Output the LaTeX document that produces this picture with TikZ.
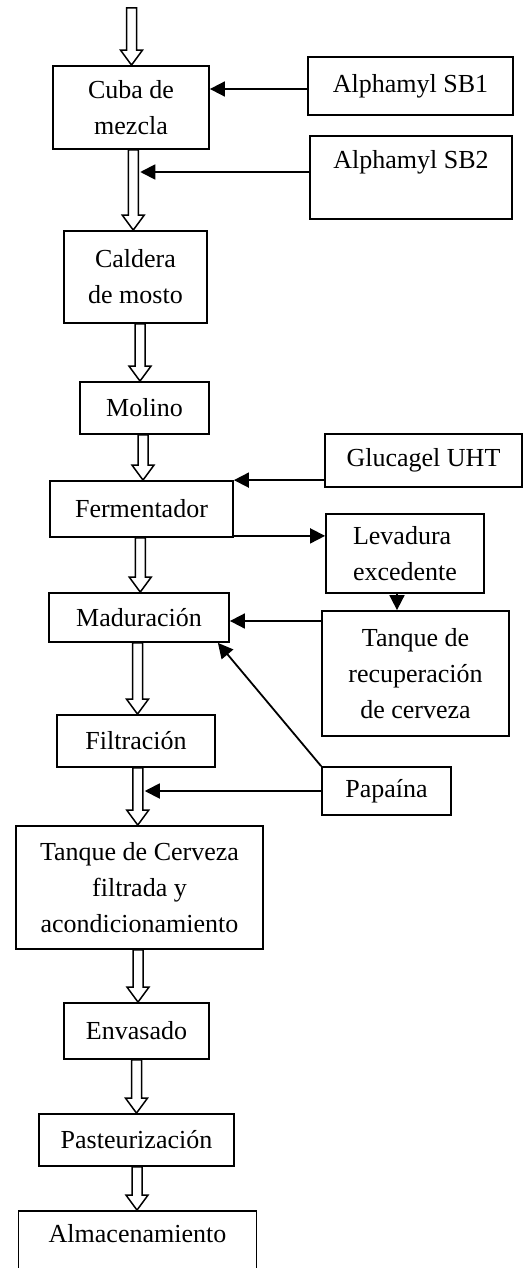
\documentclass[tikz,border=0pt]{standalone}
\usepackage{fontspec}
\setmainfont{Liberation Serif}
\usepackage{tikz}
\usetikzlibrary{arrows.meta, positioning, calc}

\tikzset{
    box/.style={draw, line width=1.8pt, align=center, inner sep=0pt, font=\fontsize{26}{36}\selectfont},
    feed/.style={line width=1.8pt, -{Triangle[length=15pt, width=15pt]}},
    hollow/.style={line width=1.5pt, fill=white, line join=miter},
}

% hollow flow arrow between two anchors
\newcommand{\hollowarrow}[2]{%
    \draw[hollow] let \p1=($(#1)!0.5!(#2)$), \p2=(#1), \p3=(#2) in
        (\x1-5pt,\y2) -- (\x1-5pt,\y3+15pt) -- (\x1-11pt,\y3+15pt) -- (\x1,\y3)
        -- (\x1+11pt,\y3+15pt) -- (\x1+5pt,\y3+15pt) -- (\x1+5pt,\y2) -- cycle;}

\begin{document}
\begin{tikzpicture}[x=1pt, y=-1pt]
    \useasboundingbox (0,0) rectangle (528,1268);

    % main line
    \coordinate (inlet) at (132,8);
    \node[box, minimum width=156pt, minimum height=83pt] (cuba) at (131,107.5) {Cuba de\\mezcla};
    \node[box, minimum width=143pt, minimum height=92pt] (caldera) at (135.5,277) {Caldera\\de mosto};
    \node[box, minimum width=129pt, minimum height=52pt] (molino) at (144.5,408) {Molino};
    \node[box, minimum width=183pt, minimum height=56pt] (ferm) at (141.5,509) {Fermentador};
    \node[box, minimum width=180pt, minimum height=49pt] (mad) at (139,617.5) {Maduración};
    \node[box, minimum width=158pt, minimum height=52pt] (filt) at (136,741) {Filtración};
    \node[box, minimum width=247pt, minimum height=123pt] (tanque) at (139.5,887.5) {Tanque de Cerveza\\filtrada y\\acondicionamiento};
    \node[box, minimum width=145pt, minimum height=56pt] (env) at (136.5,1031) {Envasado};
    \node[box, minimum width=195pt, minimum height=52pt] (past) at (136.5,1140) {Pasteurización};
    \node[box, minimum width=238pt, minimum height=80pt] (alm) at (137.5,1251) {Almacenamiento\\\mbox{}};

    % side inputs
    \node[box, minimum width=205pt, minimum height=58pt] (sb1) at (410.5,86) {Alphamyl SB1};
    \node[box, minimum width=202pt, minimum height=83pt] (sb2) at (411,177.5) {Alphamyl SB2\\\mbox{}};
    \node[box, minimum width=197pt, minimum height=53pt] (gluc) at (423.5,460.5) {Glucagel UHT};
    \node[box, align=left, minimum width=158pt, minimum height=79pt] (lev) at (405,553.5) {Levadura\\excedente};
    \node[box, minimum width=187pt, minimum height=125pt] (rec) at (415.5,673.5) {Tanque de\\recuperación\\de cerveza};
    \node[box, minimum width=129pt, minimum height=48pt] (pap) at (386.5,791) {Papaína};

    % hollow arrows
    \hollowarrow{inlet}{cuba.north}
    \hollowarrow{cuba.south}{caldera.north}
    \hollowarrow{caldera.south}{molino.north}
    \hollowarrow{molino.south}{ferm.north}
    \hollowarrow{ferm.south}{mad.north}
    \hollowarrow{mad.south}{filt.north}
    \hollowarrow{filt.south}{tanque.north}
    \hollowarrow{tanque.south}{env.north}
    \hollowarrow{env.south}{past.north}
    \hollowarrow{past.south}{alm.north}

    % feed arrows
    \coordinate (j1) at ($(cuba.south)!0.5!(caldera.north)+(7,0)$);
    \coordinate (j2) at ($(filt.south)!0.5!(tanque.north)+(7,0)$);
    \draw[feed] ([yshift=-3pt]sb1.west) -- ([yshift=-3pt]sb1.west -| cuba.east);
    \draw[feed] ([yshift=5.5pt]sb2.west) -- ([yshift=5.5pt]sb2.west -| j1);
    \draw[feed] (gluc.west |- ferm.north east) -- (ferm.north east);
    \draw[feed] ([yshift=2pt]ferm.south east) -- ([yshift=2pt]ferm.south east -| lev.west);
    \draw[feed] ([xshift=-8pt]lev.south) -- ([xshift=-8pt]lev.south |- rec.north);
    \draw[feed] ([yshift=-3.5pt]rec.west |- mad.east) -- ([yshift=-3.5pt]mad.east);
    \draw[feed] (pap.north west) -- ([xshift=-12pt]mad.south east);
    \draw[feed] (pap.west) -- (pap.west -| j2);
\end{tikzpicture}
\end{document}
